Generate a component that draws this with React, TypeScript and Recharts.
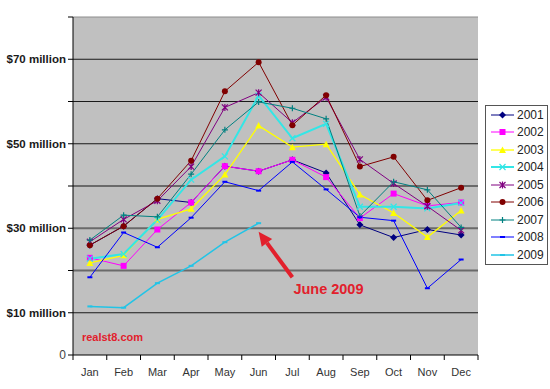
import {
  LineChart, Line, XAxis, YAxis, CartesianGrid, Legend,
  ReferenceLine, ReferenceDot
} from 'recharts';

const MONTHS = ['Jan', 'Feb', 'Mar', 'Apr', 'May', 'Jun', 'Jul', 'Aug', 'Sep', 'Oct', 'Nov', 'Dec'];

// monthly sales, $ million
const Y2001 = [26.0, 30.5, 37.0, 36.1, 44.7, 43.5, 46.2, 43.1, 30.8, 27.8, 29.7, 28.4];
const Y2002 = [23.0, 21.1, 29.7, 36.1, 44.7, 43.5, 46.2, 42.1, 32.4, 38.2, 35.3, 36.1];
const Y2003 = [21.8, 23.6, 32.1, 34.6, 42.7, 54.3, 49.2, 49.9, 38.0, 33.6, 27.9, 34.2];
const Y2004 = [22.8, 23.9, 32.0, 41.5, 47.0, 61.4, 51.3, 54.7, 35.1, 35.1, 34.7, 36.0];
const Y2005 = [26.8, 32.1, 36.5, 44.6, 58.6, 62.1, 55.0, 61.0, 46.3, 40.6, 35.2, 29.5];
const Y2006 = [26.0, 30.5, 37.0, 46.0, 62.4, 69.3, 54.4, 61.5, 44.6, 46.9, 36.6, 39.6];
const Y2007 = [27.2, 33.1, 32.7, 42.8, 53.3, 59.9, 58.4, 55.9, 32.9, 41.0, 39.1, 30.2];
const Y2008 = [18.4, 29.0, 25.5, 32.5, 41.0, 38.9, 45.7, 39.2, 32.6, 31.8, 15.8, 22.6];
const Y2009 = [11.5, 11.2, 17.0, 21.1, 26.7, 31.2, null, null, null, null, null, null];

const Y_TICKS = [0, 10, 20, 30, 40, 50, 60, 70, 80];
const Y_LABELS: Record<number, string> = {
  0: '0', 10: '$10 million', 30: '$30 million', 50: '$50 million', 70: '$70 million',
};
const DARK_GRID = [10, 50, 60, 70];
const GRAY_GRID = [20, 30, 40];

type Shape = 'diamond' | 'square' | 'triangle' | 'x' | 'star' | 'circle' | 'plus' | 'dash';

interface SeriesConfig {
  key: string;
  name: string;
  values: (number | null)[];
  color: string;
  shape: Shape;
  width: number;
}

const SERIES: SeriesConfig[] = [
  { key: 'y2001', name: '2001', values: Y2001, color: '#000080', shape: 'diamond', width: 1 },
  { key: 'y2002', name: '2002', values: Y2002, color: '#ff00ff', shape: 'square', width: 1 },
  { key: 'y2003', name: '2003', values: Y2003, color: '#ffff00', shape: 'triangle', width: 1.3 },
  { key: 'y2004', name: '2004', values: Y2004, color: '#33e6e6', shape: 'x', width: 2 },
  { key: 'y2005', name: '2005', values: Y2005, color: '#800080', shape: 'star', width: 1 },
  { key: 'y2006', name: '2006', values: Y2006, color: '#800000', shape: 'circle', width: 1 },
  { key: 'y2007', name: '2007', values: Y2007, color: '#008080', shape: 'plus', width: 1 },
  { key: 'y2008', name: '2008', values: Y2008, color: '#0000ff', shape: 'dash', width: 1 },
  { key: 'y2009', name: '2009', values: Y2009, color: '#22c4e6', shape: 'dash', width: 1.5 },
];

const data = MONTHS.map((month, i) => {
  const row: Record<string, unknown> = { month };
  SERIES.forEach((s) => { row[s.key] = s.values[i]; });
  return row;
});

const RED = '#e2202c';
const X_TICK_SIZE = 5;
const X_TICK_MARGIN = 8;

function Marker({ shape, color, cx, cy }: { shape: Shape; color: string; cx: number; cy: number }) {
  switch (shape) {
    case 'diamond':
      return <polygon points={`${cx},${cy - 3.5} ${cx + 3.5},${cy} ${cx},${cy + 3.5} ${cx - 3.5},${cy}`} fill={color} />;
    case 'square':
      return <rect x={cx - 3} y={cy - 3} width={6} height={6} fill={color} />;
    case 'triangle':
      return <polygon points={`${cx},${cy - 3.5} ${cx + 3.5},${cy + 3} ${cx - 3.5},${cy + 3}`} fill={color} />;
    case 'x':
      return <path d={`M${cx - 3},${cy - 3}L${cx + 3},${cy + 3}M${cx - 3},${cy + 3}L${cx + 3},${cy - 3}`} stroke={color} strokeWidth={1.2} />;
    case 'star':
      return <path d={`M${cx - 3},${cy - 3}L${cx + 3},${cy + 3}M${cx - 3},${cy + 3}L${cx + 3},${cy - 3}M${cx},${cy - 3.5}L${cx},${cy + 3.5}`} stroke={color} strokeWidth={1.2} />;
    case 'circle':
      return <circle cx={cx} cy={cy} r={3} fill={color} />;
    case 'plus':
      return <path d={`M${cx - 3},${cy}L${cx + 3},${cy}M${cx},${cy - 3}L${cx},${cy + 3}`} stroke={color} strokeWidth={1.2} />;
    default:
      return <rect x={cx - 2.5} y={cy - 1} width={5} height={2} fill={color} />;
  }
}

function makeDot(s: SeriesConfig) {
  return (p: any) => {
    if (p.cx == null || p.cy == null || p.value == null) return <g key={`${s.key}-${p.index}`} />;
    return (
      <g key={`${s.key}-${p.index}`}>
        <Marker shape={s.shape} color={s.color} cx={p.cx} cy={p.cy} />
      </g>
    );
  };
}

function YTick({ x, y, payload }: any) {
  const label = Y_LABELS[payload.value];
  if (!label) return <g />;
  const isZero = payload.value === 0;
  return (
    <text x={x} y={y} dy={4} textAnchor="end"
      fontSize={isZero ? 12 : 11.5} fontWeight={isZero ? 'normal' : 'bold'}
      fill={isZero ? '#444' : '#1a1a1a'}>
      {label}
    </text>
  );
}

function MonthTick({ x, y, payload, index, visibleTicksCount, width }: any) {
  const band = width / visibleTicksCount;
  const axisY = y - X_TICK_SIZE - X_TICK_MARGIN;
  return (
    <g>
      <line x1={x - band / 2} x2={x - band / 2} y1={axisY} y2={axisY + X_TICK_SIZE} stroke="#000" />
      {index === visibleTicksCount - 1 && (
        <line x1={x + band / 2} x2={x + band / 2} y1={axisY} y2={axisY + X_TICK_SIZE} stroke="#000" />
      )}
      <text x={x} y={y} dy="0.71em" textAnchor="middle" fontSize={11} fill="#333">
        {payload.value}
      </text>
    </g>
  );
}

function Arrow({ x1, y1, x2, y2 }: any) {
  const ang = Math.atan2(y2 - y1, x2 - x1);
  const len = 14;
  const half = 6.5;
  const bx = x2 - len * Math.cos(ang);
  const by = y2 - len * Math.sin(ang);
  const px = -Math.sin(ang) * half;
  const py = Math.cos(ang) * half;
  return (
    <g>
      <line x1={x1} y1={y1} x2={bx} y2={by} stroke={RED} strokeWidth={4} />
      <polygon points={`${x2},${y2} ${bx + px},${by + py} ${bx - px},${by - py}`} fill={RED} />
      <text x={x1 + 1} y={y1 + 17} fontSize={14.5} fontWeight="bold" fill={RED}>June 2009</text>
    </g>
  );
}

function Watermark({ cx, cy }: any) {
  return (
    <text x={cx - 8} y={cy} fontSize={11} fontWeight="bold" fill={RED}>realst8.com</text>
  );
}

function LegendBox() {
  return (
    <div style={{ border: '1px solid #555', background: '#fff', width: 61 }}>
      {SERIES.map((s) => (
        <div key={s.key} style={{ display: 'flex', alignItems: 'center', height: 17.5 }}>
          <svg width={27} height={10} style={{ marginLeft: 3 }}>
            <line x1={2} y1={5} x2={25} y2={5} stroke={s.color} strokeWidth={s.width} />
            <Marker shape={s.shape} color={s.color} cx={13.5} cy={5} />
          </svg>
          <span style={{ fontSize: 12, color: '#222', marginLeft: 1, lineHeight: '12px' }}>{s.name}</span>
        </div>
      ))}
    </div>
  );
}

export default function App() {
  return (
    <div style={{
      position: 'absolute', left: 0, top: 0, width: 550, height: 389, background: '#fff',
      fontFamily: "'Liberation Sans', Arial, sans-serif",
    }}>
      <LineChart width={550} height={389} data={data} margin={{ top: 17, right: 72, left: 0, bottom: 0 }}>
        <CartesianGrid horizontal={false} vertical={false} fill="#c0c0c0" />
        {GRAY_GRID.map((v) => (
          <ReferenceLine key={`g${v}`} y={v} stroke="#6a6a6a" strokeWidth={2} />
        ))}
        {DARK_GRID.map((v) => (
          <ReferenceLine key={`d${v}`} y={v} stroke="#1a1a1a" strokeWidth={1} />
        ))}
        <ReferenceLine y={80} stroke="#8c8c8c" strokeWidth={1} />
        <XAxis
          dataKey="month"
          scale="band"
          height={34}
          interval={0}
          tickLine={false}
          tickSize={X_TICK_SIZE}
          tickMargin={X_TICK_MARGIN}
          axisLine={{ stroke: '#000' }}
          tick={<MonthTick />}
        />
        <YAxis
          domain={[0, 80]}
          ticks={Y_TICKS}
          interval={0}
          width={73}
          tickSize={5}
          tickMargin={2}
          axisLine={{ stroke: '#000' }}
          tickLine={{ stroke: '#000' }}
          tick={<YTick />}
        />
        <YAxis
          yAxisId="right"
          orientation="right"
          width={0}
          tick={false}
          tickLine={false}
          axisLine={{ stroke: '#8c8c8c' }}
        />
        <Legend
          layout="vertical"
          align="center"
          verticalAlign="middle"
          content={() => <LegendBox />}
          wrapperStyle={{ left: 485, top: 105 }}
        />
        {SERIES.map((s) => (
          <Line
            key={s.key}
            type="linear"
            dataKey={s.key}
            name={s.name}
            stroke={s.color}
            strokeWidth={s.width}
            dot={makeDot(s)}
            activeDot={false}
            connectNulls={false}
            isAnimationActive={false}
          />
        ))}
        <ReferenceLine segment={[{ x: 'Jul', y: 18.4 }, { x: 'Jun', y: 29.2 }]} shape={<Arrow />} />
        <ReferenceDot x="Jan" y={3.3} r={0} shape={<Watermark />} />
      </LineChart>
    </div>
  );
}
